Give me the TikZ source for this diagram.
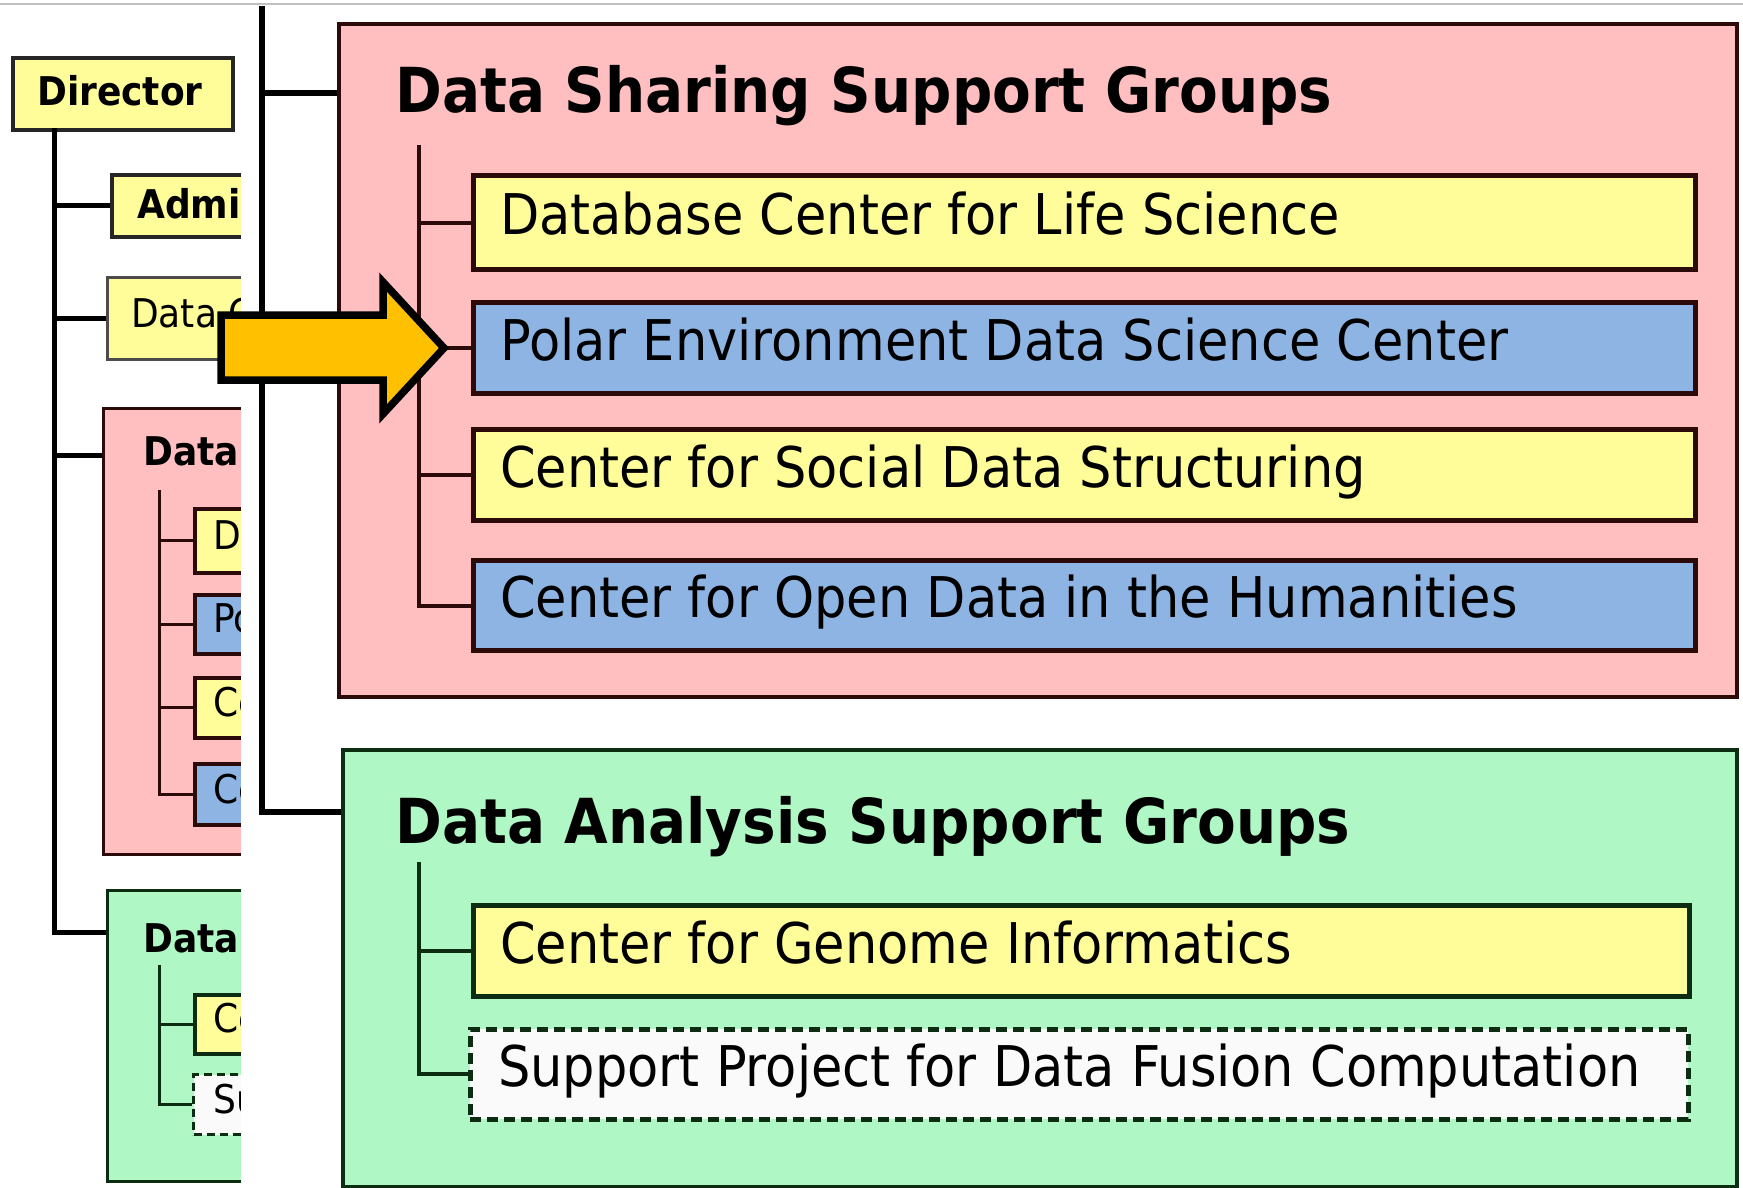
\documentclass[tikz,border=0pt]{standalone}
\usepackage{fontspec}
\setmainfont{DejaVu Sans}
\definecolor{pinkbg}{RGB}{255,191,192}
\definecolor{yfill}{RGB}{255,253,153}
\definecolor{bfill}{RGB}{141,180,226}
\definecolor{gbg}{RGB}{176,247,198}
\definecolor{arrowc}{RGB}{255,192,0}
\definecolor{pinkline}{RGB}{45,10,10}
\definecolor{greenline}{RGB}{12,45,18}
\definecolor{dfill}{RGB}{250,250,250}
\newcommand{\vstretch}[1]{\scalebox{1}[1.1]{#1}}
\tikzset{
  bx/.style={draw, rectangle, anchor=north west, inner sep=0pt},
  pinkgroup/.style={bx, fill=pinkbg, draw=pinkline, line width=3.5pt},
  greengroup/.style={bx, fill=gbg, draw=greenline, line width=3.5pt},
  yb/.style={bx, fill=yfill, draw=pinkline, line width=5pt},
  bb/.style={bx, fill=bfill, draw=pinkline, line width=5pt},
  ygb/.style={bx, fill=yfill, draw=greenline, line width=5pt},
  db/.style={bx, fill=dfill, draw=greenline, line width=4.5pt, dash pattern=on 11pt off 6pt},
  lbl/.style={anchor=base west, inner sep=0pt},
  bigtxt/.style={lbl, font=\fontsize{51}{60}\selectfont},
  titletxt/.style={lbl, font=\fontsize{56.4}{66}\selectfont\bfseries},
  smalltxt/.style={lbl, font=\fontsize{36}{42}\selectfont},
  smallbold/.style={lbl, font=\fontsize{36}{42}\selectfont\bfseries},
  ptree/.style={draw=pinkline, line width=4pt},
  gtree/.style={draw=greenline, line width=4pt},
  mainline/.style={draw=black, line width=5pt},
  outerline/.style={draw=black, line width=6pt},
}
\begin{document}
\begin{tikzpicture}[x=1pt,y=-1pt]
\useasboundingbox (0,0) rectangle (1743,1187);
\fill[white] (0,0) rectangle (1743,1187);
\draw[black!25, line width=2pt] (0,4) -- (1743,4);

% ---------------- left (clipped) panel ----------------
\begin{scope}
\clip (0,5) rectangle (241,1187);
\node[yb, draw=black!85, line width=3.5pt, minimum width=220pt, minimum height=72pt] (dir) at (11,56) {};
\node[smallbold] (dirt) at (37,105) {\vstretch{Director}};
\node[yb, draw=black!85, line width=3.5pt, minimum width=200pt, minimum height=62pt] (adm) at (110,173) {};
\node[smallbold] (admt) at (137,218) {\vstretch{Admin}};
\node[yb, draw=black!70, line width=2.5pt, minimum width=200pt, minimum height=82pt] (dco) at (106,276) {};
\node[smalltxt] (dcot) at (131,327) {\vstretch{Data C}};
% pink group small
\node[pinkgroup, line width=3pt, minimum width=300pt, minimum height=446pt] (lpink) at (102,407) {};
\node[smallbold] (lpinkt) at (143,465) {\vstretch{Data}};
\node[yb, line width=3.5pt, minimum width=200pt, minimum height=64pt] (lda) at (193,507) {};
\node[smalltxt] (ldat) at (213,549) {\vstretch{Da}};
\node[bb, line width=3.5pt, minimum width=200pt, minimum height=59pt] (lpo) at (193,593) {};
\node[smalltxt] (lpot) at (213,632) {\vstretch{Po}};
\node[yb, line width=3.5pt, minimum width=200pt, minimum height=60pt] (lce) at (193,676) {};
\node[smalltxt] (lcet) at (213,716) {\vstretch{Ce}};
\node[bb, line width=3.5pt, minimum width=200pt, minimum height=61pt] (lco) at (193,762) {};
\node[smalltxt] (lcot) at (213,803) {\vstretch{Ce}};
\coordinate (lptop) at (159,490);
\draw[ptree, line width=3pt] (lptop) |- (lco.west);
\foreach \n in {lda,lpo,lce} \draw[ptree, line width=3pt] (lptop |- \n.west) -- (\n.west);
% green group small
\node[greengroup, line width=3pt, minimum width=300pt, minimum height=291pt] (lgreen) at (106,889) {};
\node[smallbold] (lgreent) at (143,952) {\vstretch{Data}};
\node[ygb, line width=3.5pt, minimum width=200pt, minimum height=59pt] (lge) at (193,993) {};
\node[smalltxt] (lget) at (213,1032) {\vstretch{Ce}};
\node[db, line width=3pt, dash pattern=on 8pt off 5pt, minimum width=200pt, minimum height=60pt] (lsu) at (192,1073) {};
\node[smalltxt] (lsut) at (213,1113) {\vstretch{Su}};
\coordinate (lgtop) at (159,965);
\draw[gtree, line width=3pt] (lgtop) |- (lsu.west);
\draw[gtree, line width=3pt] (lgtop |- lge.west) -- (lge.west);
% main left trunk
\coordinate (ltrunk) at (54,128);
\coordinate (lgj) at (106,932);
\coordinate (lpj) at (102,455);
\draw[mainline] (ltrunk) |- (lgj);
\draw[mainline] (ltrunk |- adm.west) -- (adm.west);
\draw[mainline] (ltrunk |- dco.west) -- (dco.west);
\draw[mainline] (ltrunk |- lpj) -- (lpj);
\end{scope}

% ---------------- right panel ----------------
\fill[white] (241,6) rectangle (1743,1187);
\node[pinkgroup, minimum width=1398pt, minimum height=673pt] (pink) at (337,22) {};
\node[titletxt] (pinkt) at (395,112) {\vstretch{Data Sharing Support Groups}};
\node[yb, minimum width=1222pt, minimum height=94pt] (dbcls) at (471,173) {};
\node[bigtxt] (dbclst) at (500,234) {\vstretch{Database Center for Life Science}};
\node[bb, minimum width=1222pt, minimum height=91pt] (pedsc) at (471,300) {};
\node[bigtxt] (pedsct) at (500,360) {\vstretch{Polar Environment Data Science Center}};
\node[yb, minimum width=1222pt, minimum height=91pt] (csds) at (471,427) {};
\node[bigtxt] (csdst) at (500,487) {\vstretch{Center for Social Data Structuring}};
\node[bb, minimum width=1222pt, minimum height=90pt] (codh) at (471,558) {};
\node[bigtxt] (codht) at (500,617) {\vstretch{Center for Open Data in the Humanities}};
\coordinate (ptop) at (419,145);
\draw[ptree] (ptop) |- (codh.west);
\foreach \n in {dbcls,pedsc,csds} \draw[ptree] (ptop |- \n.west) -- (\n.west);

\node[greengroup, minimum width=1394pt, minimum height=437pt] (green) at (341,748) {};
\node[titletxt] (greent) at (395,843) {\vstretch{Data Analysis Support Groups}};
\node[ygb, minimum width=1216pt, minimum height=91pt] (cgi) at (471,903) {};
\node[bigtxt] (cgit) at (500,963) {\vstretch{Center for Genome Informatics}};
\node[db, minimum width=1218pt, minimum height=90pt] (spdf) at (468,1027) {};
\node[bigtxt] (spdft) at (498,1086) {\vstretch{Support Project for Data Fusion Computation}};
\coordinate (gtop) at (419,862);
\draw[gtree] (gtop) |- (spdf.west);
\draw[gtree] (gtop |- cgi.west) -- (cgi.west);

% outer trunk
\coordinate (otop) at (262,6);
\coordinate (ogj) at (341,812);
\coordinate (opj) at (337,93);
\draw[outerline] (otop) |- (ogj);
\draw[outerline] (otop |- opj) -- (opj);

% ---------------- arrow ----------------
\draw[draw=black, fill=arrowc, line width=7.5pt, miter limit=10]
  (221,315) -- (383,315) -- (383,282) -- (444,348) -- (383,414) -- (383,380) -- (221,380) -- cycle;
\end{tikzpicture}
\end{document}
